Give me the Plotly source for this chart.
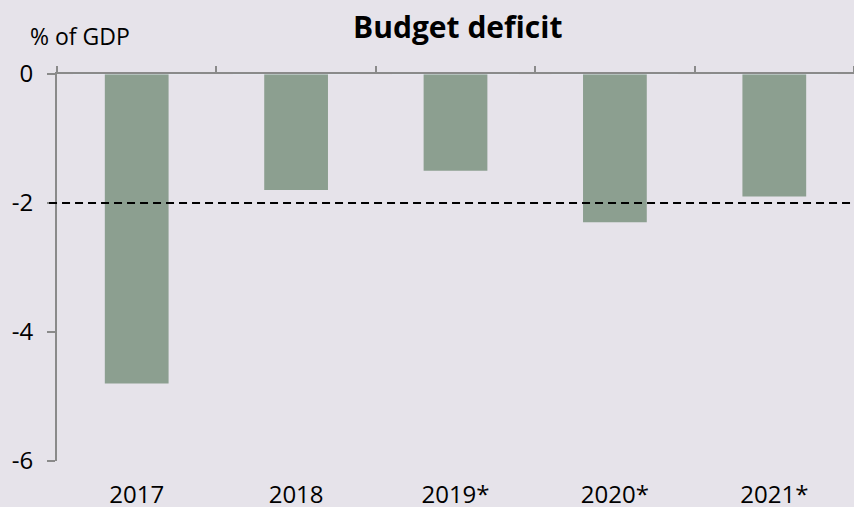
import plotly.graph_objects as go

# Budget balance, % of GDP (* = forecast)
years = ["2017", "2018", "2019*", "2020*", "2021*"]
deficit = [-4.8, -1.8, -1.5, -2.3, -1.9]
y_ticks = [-6, -4, -2, 0]
y_tick_text = ["-6", "-4", "-2", "0"]
threshold = -2

bg = "#E6E3EA"
bar_color = "#8C9F90"
axis_color = "#8A8A8A"
font = "Open Sans, Liberation Sans, sans-serif"

fig = go.Figure()
fig.add_trace(go.Bar(
    x=years, y=deficit, marker=dict(color=bar_color, line=dict(width=0)),
    width=0.4, showlegend=False, hoverinfo="x+y",
))
# invisible twin trace so the top axis carries the category boundaries
fig.add_trace(go.Bar(x=years, y=[0] * len(years), xaxis="x2",
                     showlegend=False, hoverinfo="skip"))

fig.update_layout(
    width=854, height=507,
    paper_bgcolor=bg, plot_bgcolor=bg,
    margin=dict(l=57, r=0, t=74, b=46, autoexpand=False),
    font=dict(family=font, color="#000000", size=24),
    title=dict(text="<b>Budget deficit</b>", x=0.536, xanchor="center",
               y=0.946, yanchor="middle", font=dict(size=30)),
    xaxis=dict(
        showline=False, showgrid=False, zeroline=False, ticks="",
        ticklabelstandoff=17, tickfont=dict(size=24), automargin=False,
    ),
    xaxis2=dict(
        overlaying="x", side="top", matches="x", showline=True,
        linecolor=axis_color, linewidth=2, ticks="outside", ticklen=6,
        tickwidth=2, tickcolor=axis_color, tickson="boundaries",
        showticklabels=False, showgrid=False, zeroline=False,
        automargin=False,
    ),
    yaxis=dict(
        range=[-6, 0], tickvals=y_ticks, ticktext=y_tick_text, showline=True,
        linecolor=axis_color, linewidth=2, ticks="outside", ticklen=8,
        tickwidth=2, tickcolor=axis_color, showgrid=False, zeroline=False,
        ticklabelstandoff=9, tickfont=dict(size=24), automargin=False,
    ),
    annotations=[dict(
        text="% of GDP", xref="paper", yref="paper", x=-0.037, y=1.0,
        xanchor="left", yanchor="middle", yshift=38, showarrow=False,
        font=dict(size=23),
    )],
    shapes=[dict(
        type="line", xref="paper", yref="y", x0=-0.01, x1=1,
        y0=threshold, y1=threshold,
        line=dict(color="#000000", width=2, dash="8px,5px"),
    )],
)

fig.write_html("out.html")
